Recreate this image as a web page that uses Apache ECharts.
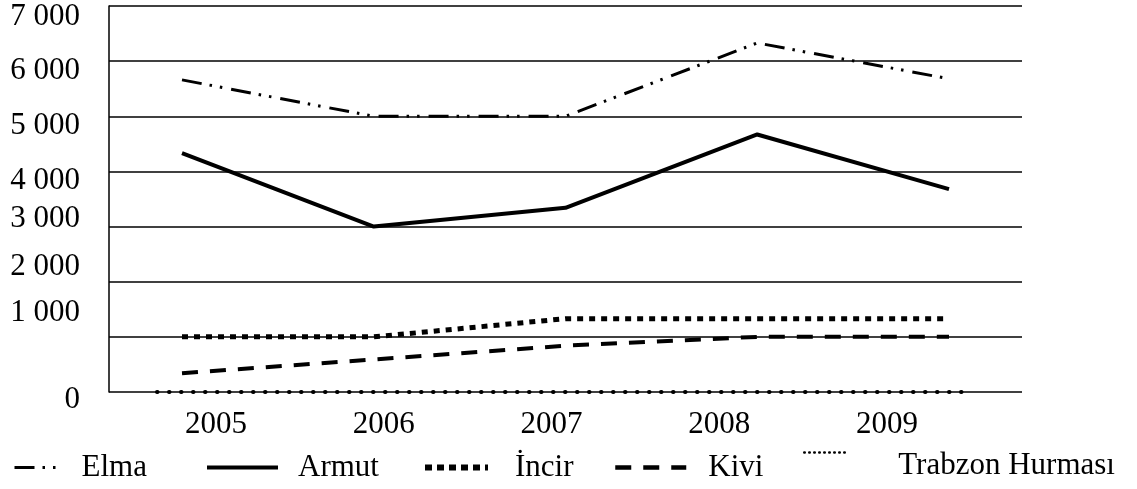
<!DOCTYPE html>
<html>
<head>
<meta charset="utf-8">
<script src="https://cdn.jsdelivr.net/npm/echarts@6/dist/echarts.min.js"></script>
<style>
html,body{margin:0;padding:0;background:#fff;}
#chart{width:1137px;height:489px;}
</style>
</head>
<body>
<div id="chart"></div>
<script>
// values
var years = ['2005', '2006', '2007', '2008', '2009'];
var yTicks = ['0', '1 000', '2 000', '3 000', '4 000', '5 000', '6 000', '7 000'];
var elma = [5660, 5000, 5000, 6330, 5680];
var armut = [4330, 3000, 3340, 4670, 3680];
var incir = [1000, 1000, 1330, 1330, 1330];
var kivi = [340, 590, 840, 1000, 1000];
var trabzon = [0, 0, 0, 0, 0];
var names = ['Elma', 'Armut', 'İncir', 'Kivi', 'Trabzon Hurması'];

var font = 'Liberation Serif';
var myChart = echarts.init(document.getElementById('chart'));

// tick labels in the source sit a bit off their grid lines
var shift = [8, -24, -15, -8, 9, 10, 10, 11];
var rich = {};
for (var i = 0; i < shift.length; i++) {
  var d = shift[i];
  rich['t' + i] = {
    fontSize: 31, fontFamily: font, color: '#000',
    padding: d > 0 ? [2 * d, 0, 0, 0] : [0, 0, -2 * d, 0]
  };
}

var styles = [
  {color: '#000', width: 3, type: [20, 8, 2.5, 8, 2.5, 9]},
  {color: '#000', width: 4, type: 'solid'},
  {color: '#000', width: 5, type: [6, 6]},
  {color: '#000', width: 4, type: [16, 12]},
  {color: '#000', width: 4, type: [0.5, 11.5], cap: 'round'}
];
var values = [elma, armut, incir, kivi, trabzon];
// the dotted zero line runs a little wider than the others
var axisOf = [1, 1, 1, 1, 3];

var series = [];
for (var i = 0; i < names.length; i++) {
  series.push({
    name: names[i],
    type: 'line',
    xAxisIndex: axisOf[i],
    yAxisIndex: axisOf[i],
    symbol: 'none',
    clip: false,
    lineStyle: styles[i],
    data: values[i]
  });
}

// legend items are spread unevenly in the source, one legend each
var legLeft = [13, 205, 422, 613, 803];
var legWidth = [42, 71, 63, 71, 45];
var legGap = [20, 15, 22, 17, 44];
var legLine = [
  {width: 3},
  {width: 4},
  {width: 6, type: [7, 5]},
  {width: 4.5},
  {width: 2.5, type: [0.5, 4.5], cap: 'round'}
];
var legend = [];
for (var i = 0; i < names.length; i++) {
  var last = i === names.length - 1;
  legend.push({
    data: [names[i]],
    left: legLeft[i],
    top: last ? 447 : 452,
    padding: 0,
    itemWidth: legWidth[i],
    itemHeight: 14,
    itemStyle: {opacity: 0},
    lineStyle: legLine[i],
    selectedMode: false,
    formatter: '{p|{name}}',
    textStyle: {
      fontSize: 31, fontFamily: font, color: '#000',
      rich: {
        p: {
          fontSize: 31, fontFamily: font, color: '#000',
          // the dotted sample of the last item sits higher than its text
          padding: last ? [26, 0, 0, legGap[i]] : [0, 0, 0, legGap[i]]
        }
      }
    }
  });
}

var option = {
  backgroundColor: '#fff',
  animation: false,
  legend: legend,
  grid: [
    {left: 109, right: 115, top: 6, bottom: 97},   // frame with grid lines
    {left: 182, right: 188, top: 6, bottom: 97},   // data
    {left: 132, right: 166, top: 6, bottom: 97},   // year labels
    {left: 157, right: 169, top: 6, bottom: 97}    // dotted zero line
  ],
  xAxis: [
    {gridIndex: 0, type: 'value', min: 0, max: 1, show: false},
    {gridIndex: 1, type: 'category', boundaryGap: false, data: years, show: false},
    {gridIndex: 2, type: 'category', boundaryGap: true, data: years,
      axisLine: {show: false}, axisTick: {show: false},
      axisLabel: {fontSize: 31, fontFamily: font, color: '#000', margin: 17}},
    {gridIndex: 3, type: 'category', boundaryGap: false, data: years, show: false}
  ],
  yAxis: [
    {gridIndex: 0, type: 'value', min: 0, max: 7000, interval: 1000,
      axisLine: {show: true, lineStyle: {color: '#000', width: 1.5}},
      axisTick: {show: false},
      splitLine: {show: true, lineStyle: {color: '#000', width: 1.5}},
      axisLabel: {
        margin: 29,
        formatter: function (v) {
          var k = Math.round(v / 1000);
          return '{t' + k + '|' + yTicks[k] + '}';
        },
        rich: rich
      }
    },
    {gridIndex: 1, type: 'value', min: 0, max: 7000, interval: 1000, show: false, splitLine: {show: false}},
    {gridIndex: 2, type: 'value', min: 0, max: 7000, interval: 1000, show: false, splitLine: {show: false}},
    {gridIndex: 3, type: 'value', min: 0, max: 7000, interval: 1000, show: false, splitLine: {show: false}}
  ],
  series: series
};
myChart.setOption(option);
</script>
</body>
</html>
